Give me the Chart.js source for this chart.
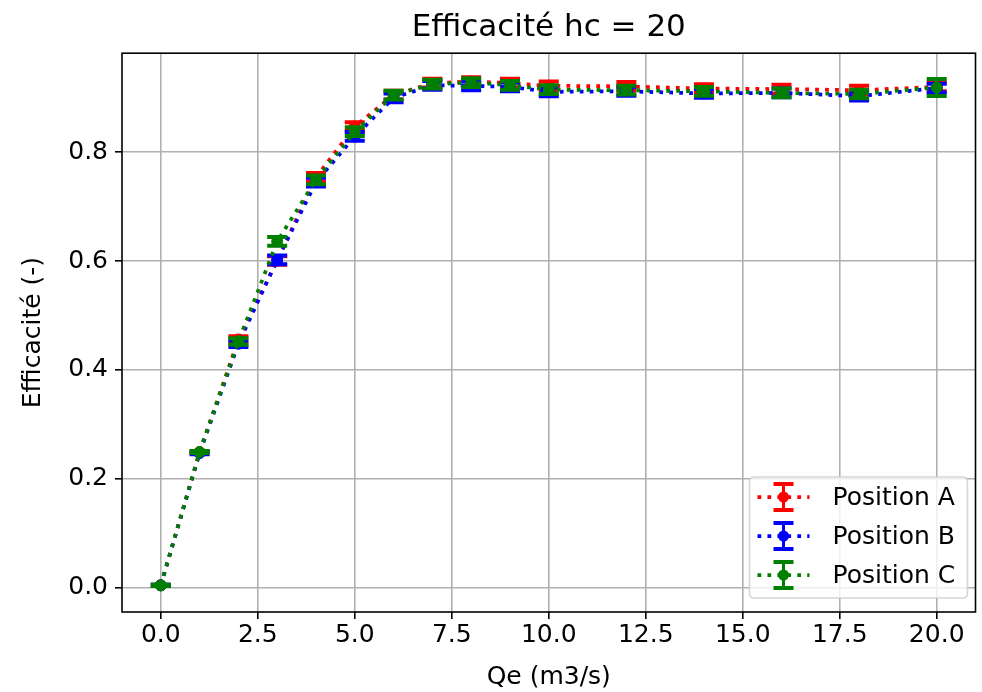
<!DOCTYPE html>
<html>
<head>
<meta charset="utf-8">
<script src="https://cdn.jsdelivr.net/npm/chart.js@4/dist/chart.umd.min.js"></script>
<style>
  html, body { margin: 0; padding: 0; background: #ffffff; }
  #wrap { width: 982px; height: 692px; }
</style>
</head>
<body>
<div id="wrap"><canvas id="c" width="982" height="692"></canvas></div>
<script>
// ---- data ----
const qe = [0, 1, 2, 3, 4, 5, 6, 7, 8, 9, 10, 12, 14, 16, 18, 20];
const effA = [0.004, 0.249, 0.456, 0.601, 0.754, 0.847, 0.905, 0.927, 0.930, 0.927, 0.922, 0.921, 0.917, 0.916, 0.914, 0.920];
const effB = [0.004, 0.247, 0.448, 0.602, 0.745, 0.829, 0.900, 0.923, 0.922, 0.920, 0.911, 0.912, 0.908, 0.909, 0.903, 0.918];
const effC = [0.004, 0.249, 0.452, 0.636, 0.749, 0.838, 0.905, 0.925, 0.928, 0.923, 0.915, 0.914, 0.912, 0.909, 0.907, 0.919];
const errA = [0.001, 0.002, 0.006, 0.008, 0.008, 0.008, 0.008, 0.008, 0.008, 0.008, 0.008, 0.008, 0.008, 0.008, 0.008, 0.008];
const errB = [0.001, 0.002, 0.006, 0.008, 0.008, 0.008, 0.008, 0.008, 0.008, 0.008, 0.008, 0.008, 0.008, 0.008, 0.008, 0.008];
const errC = [0.001, 0.002, 0.006, 0.008, 0.008, 0.008, 0.008, 0.008, 0.008, 0.008, 0.008, 0.008, 0.008, 0.008, 0.008, 0.0155];
const seriesNames = ['Position A', 'Position B', 'Position C'];
const seriesColors = ['#ff0000', '#0000ff', '#008000'];
const xTicks = [0, 2.5, 5, 7.5, 10, 12.5, 15, 17.5, 20];
const yTicks = [0, 0.2, 0.4, 0.6, 0.8];
const titleText = 'Efficacité hc = 20';
const xLabel = 'Qe (m3/s)';
const yLabel = 'Efficacité (-)';

const FONT = "'DejaVu Sans', 'Liberation Sans', sans-serif";
const CAP_HALF = 10, CAP_W = 4, BAR_W = 3;
const LINE_W = 3.75, DASH = [3.75, 6.2];

function makeSet(i, ys, errs, order) {
  return {
    label: seriesNames[i],
    data: qe.map((x, k) => ({ x: x, y: ys[k] })),
    errors: errs,
    borderColor: seriesColors[i],
    backgroundColor: seriesColors[i],
    borderWidth: LINE_W,
    borderDash: DASH,
    borderCapStyle: 'butt',
    pointRadius: 5.5,
    pointBorderWidth: 1,
    pointBorderColor: seriesColors[i],
    pointBackgroundColor: seriesColors[i],
    pointHoverRadius: 5.5,
    tension: 0,
    fill: false,
    order: order
  };
}

function drawErrorGlyph(ctx, x, yTop, yBot, color) {
  ctx.save();
  ctx.strokeStyle = color;
  ctx.lineCap = 'butt';
  ctx.lineWidth = BAR_W;
  ctx.beginPath();
  ctx.moveTo(x, yTop); ctx.lineTo(x, yBot);
  ctx.stroke();
  ctx.lineWidth = CAP_W;
  ctx.beginPath();
  ctx.moveTo(x - CAP_HALF, yTop); ctx.lineTo(x + CAP_HALF, yTop);
  ctx.moveTo(x - CAP_HALF, yBot); ctx.lineTo(x + CAP_HALF, yBot);
  ctx.stroke();
  ctx.restore();
}

const errorBarPlugin = {
  id: 'errorBars',
  beforeDatasetDraw(chart, args) {
    const ds = chart.data.datasets[args.index];
    if (!ds.errors) return;
    const xs = chart.scales.x, ys = chart.scales.y;
    const ctx = chart.ctx;
    ds.data.forEach((p, k) => {
      const e = ds.errors[k];
      const px = xs.getPixelForValue(p.x);
      const yT = ys.getPixelForValue(p.y + e);
      const yB = ys.getPixelForValue(p.y - e);
      drawErrorGlyph(ctx, px, yT, yB, ds.borderColor);
    });
  }
};

const framePlugin = {
  id: 'frame',
  afterDatasetsDraw(chart) {
    const a = chart.chartArea, ctx = chart.ctx;
    ctx.save();
    ctx.strokeStyle = '#000000';
    ctx.lineWidth = 1.6;
    ctx.strokeRect(a.left, a.top, a.right - a.left, a.bottom - a.top);
    ctx.restore();
  }
};

function roundRect(ctx, x, y, w, h, r) {
  ctx.beginPath();
  ctx.moveTo(x + r, y);
  ctx.lineTo(x + w - r, y); ctx.quadraticCurveTo(x + w, y, x + w, y + r);
  ctx.lineTo(x + w, y + h - r); ctx.quadraticCurveTo(x + w, y + h, x + w - r, y + h);
  ctx.lineTo(x + r, y + h); ctx.quadraticCurveTo(x, y + h, x, y + h - r);
  ctx.lineTo(x, y + r); ctx.quadraticCurveTo(x, y, x + r, y);
  ctx.closePath();
}

const legendPlugin = {
  id: 'innerLegend',
  afterDraw(chart) {
    const a = chart.chartArea, ctx = chart.ctx;
    const w = 218, h = 121;
    const bx = a.right - 8 - w, by = a.bottom - 14 - h;
    ctx.save();
    roundRect(ctx, bx, by, w, h, 5);
    ctx.fillStyle = 'rgba(255,255,255,0.8)';
    ctx.fill();
    ctx.strokeStyle = 'rgba(204,204,204,0.8)';
    ctx.lineWidth = 1.6;
    ctx.stroke();
    chart.data.datasets.forEach((ds, i) => {
      const cy = by + 20 + 39 * i;
      const c = ds.borderColor;
      ctx.save();
      ctx.strokeStyle = c;
      ctx.lineWidth = LINE_W;
      ctx.setLineDash(DASH);
      ctx.beginPath();
      ctx.moveTo(bx + 8, cy); ctx.lineTo(bx + 60, cy);
      ctx.stroke();
      ctx.restore();
      drawErrorGlyph(ctx, bx + 34, cy - 13, cy + 13, c);
      ctx.beginPath();
      ctx.fillStyle = c;
      ctx.arc(bx + 34, cy, 5.5, 0, Math.PI * 2);
      ctx.fill();
      ctx.fillStyle = '#000000';
      ctx.font = '25px ' + FONT;
      ctx.textBaseline = 'middle';
      ctx.textAlign = 'left';
      ctx.fillText(ds.label, bx + 83, cy + 1);
    });
    ctx.restore();
  }
};

const tickFont = { family: FONT, size: 25 };

new Chart(document.getElementById('c'), {
  type: 'line',
  data: {
    datasets: [
      makeSet(0, effA, errA, 3),
      makeSet(1, effB, errB, 2),
      makeSet(2, effC, errC, 1)
    ]
  },
  options: {
    responsive: false,
    devicePixelRatio: 1,
    animation: false,
    layout: { padding: { left: 0, right: 4, top: 0, bottom: 0 } },
    plugins: {
      legend: { display: false },
      tooltip: { enabled: false },
      title: {
        display: true,
        fullSize: false,
        text: titleText,
        color: '#000000',
        font: { family: FONT, size: 31, weight: 'normal' },
        padding: { top: 9, bottom: 7 }
      }
    },
    scales: {
      x: {
        type: 'linear',
        min: -1,
        max: 21,
        afterBuildTicks(scale) { scale.ticks = xTicks.map(v => ({ value: v })); },
        afterFit(scale) { scale.height = 80; },
        ticks: {
          color: '#000000',
          font: tickFont,
          padding: 1,
          autoSkip: false,
          maxRotation: 0,
          callback: v => Number(v).toFixed(1)
        },
        grid: {
          color: '#b0b0b0',
          lineWidth: 1.6,
          tickColor: '#000000',
          tickLength: 7,
          tickWidth: 1.6
        },
        border: { display: false },
        title: {
          display: true,
          text: xLabel,
          color: '#000000',
          font: { family: FONT, size: 25 },
          padding: { top: 0, bottom: 0 }
        }
      },
      y: {
        type: 'linear',
        min: -0.045,
        max: 0.982,
        afterBuildTicks(scale) { scale.ticks = yTicks.map(v => ({ value: v })); },
        afterFit(scale) { scale.width = 122; },
        ticks: {
          color: '#000000',
          font: tickFont,
          padding: 7,
          callback: v => Number(v).toFixed(1)
        },
        grid: {
          color: '#b0b0b0',
          lineWidth: 1.6,
          tickColor: '#000000',
          tickLength: 7,
          tickWidth: 1.6
        },
        border: { display: false },
        title: {
          display: true,
          text: yLabel,
          color: '#000000',
          font: { family: FONT, size: 25 },
          padding: { top: 18, bottom: 0 }
        }
      }
    }
  },
  plugins: [errorBarPlugin, framePlugin, legendPlugin]
});
</script>
</body>
</html>
